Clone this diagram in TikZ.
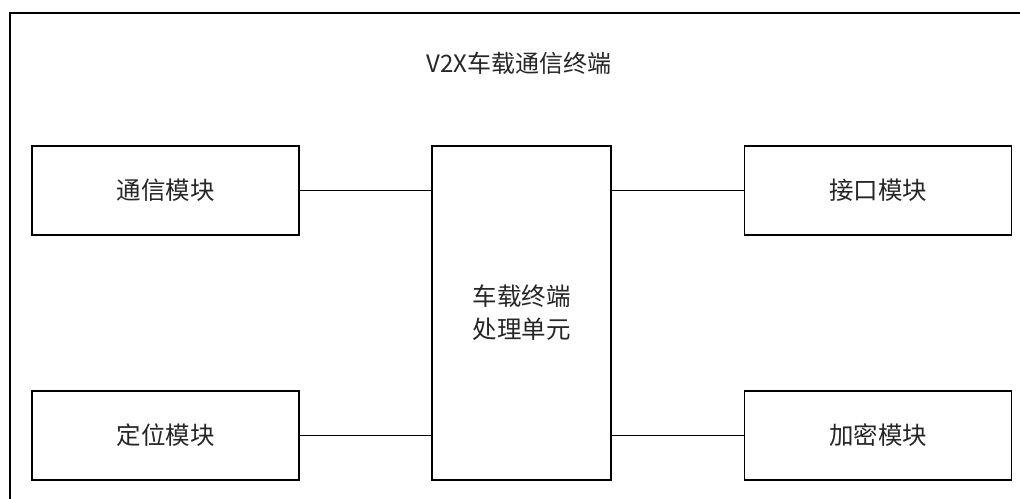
\documentclass[tikz,border=0pt]{standalone}
\usepackage{fontspec}
\setmainfont{Noto Sans CJK SC}
\begin{document}
\begin{tikzpicture}[x=1pt,y=-1pt,
  box/.style={draw=black, line width=1.6pt, rectangle, inner sep=0pt, font=\fontsize{24.5}{33}\selectfont, text=black!85},
  side/.style={box, minimum width=267pt, minimum height=89pt},
  link/.style={draw=black, line width=1.6pt}]
\useasboundingbox (0,0) rectangle (1020,498);
\clip (0,0) rectangle (1020,498);
\fill[white] (0,0) rectangle (1020,498);
\draw[line width=2.4pt] (10,530) -- (10,13) -- (1040,13);
\node[font=\fontsize{24}{28}\selectfont, text=black!85] (title) at (519,63) {V2X车载通信终端};
\node[side] (comm) at (165.5,190.5) {通信模块};
\node[side] (pos) at (165.5,435.5) {定位模块};
\node[side] (intf) at (878,190.5) {接口模块};
\node[side] (enc) at (878,435.5) {加密模块};
\node[box, minimum width=179pt, minimum height=334pt, align=center] (cpu) at (521.5,313) {车载终端\\处理单元};
\draw[link] (comm.east) -- (comm.east -| cpu.west);
\draw[link] (pos.east) -- (pos.east -| cpu.west);
\draw[link] (intf.west -| cpu.east) -- (intf.west);
\draw[link] (enc.west -| cpu.east) -- (enc.west);
\end{tikzpicture}
\end{document}
